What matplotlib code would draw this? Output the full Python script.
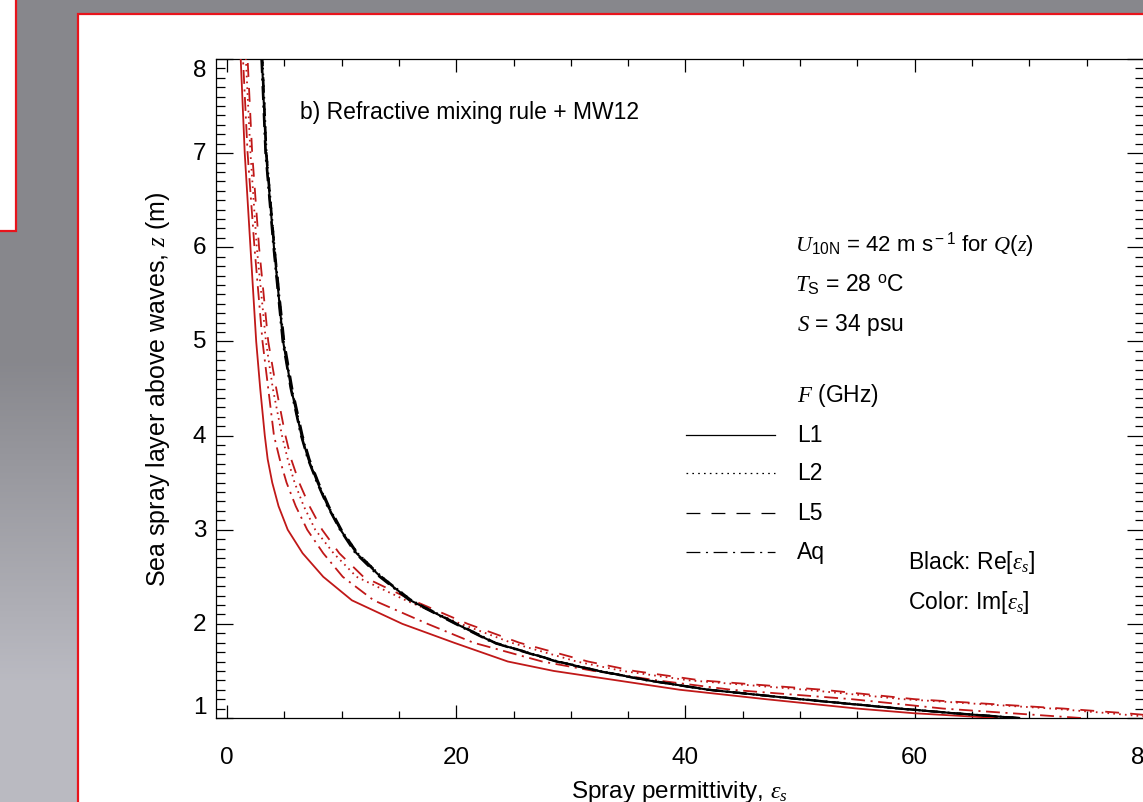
import numpy as np
import matplotlib
matplotlib.use("Agg")
import matplotlib.pyplot as plt
from matplotlib.patches import Rectangle
from matplotlib.lines import Line2D
from matplotlib.ticker import MultipleLocator

plt.rcParams.update({
    "font.family": ["Liberation Sans", "DejaVu Sans"],
    "mathtext.fontset": "custom",
    "mathtext.rm": "Liberation Sans",
    "mathtext.it": "Liberation Serif:italic",
    "mathtext.bf": "Liberation Sans:bold",
    "mathtext.sf": "Liberation Sans",
    "lines.scale_dashes": False,
})

# Height of the sea spray layer above the waves (m)
height = [1.0, 1.05, 1.1, 1.2, 1.3, 1.4, 1.5, 1.6, 1.8, 2.0, 2.25,
          2.5, 2.75, 3.0, 3.25, 3.5, 3.75, 4.0, 4.5, 5.0, 6.0, 7.0, 8.0]

# Real part of spray permittivity, per frequency band
re_L1 = [69.0, 63.5, 58.7, 50.0, 42.0, 36.7, 32.4, 28.8, 23.3, 20.0, 16.0,
         13.4, 11.3, 9.9, 8.8, 7.9, 7.1, 6.5, 5.6, 4.9, 4.1, 3.4, 3.05]
re_L2 = [69.1, 63.6, 58.8, 50.1, 42.1, 36.8, 32.5, 28.9, 23.4, 20.1, 16.1,
         13.5, 11.4, 9.95, 8.85, 7.95, 7.15, 6.55, 5.65, 4.95, 4.15, 3.45, 3.1]
re_L5 = [69.2, 63.6, 58.8, 50.1, 42.1, 36.8, 32.5, 28.9, 23.4, 20.1, 16.1,
         13.5, 11.4, 10.0, 8.9, 8.0, 7.2, 6.6, 5.7, 5.0, 4.15, 3.45, 3.1]
re_Aq = [68.9, 63.4, 58.6, 49.9, 41.9, 36.6, 32.3, 28.7, 23.2, 19.9, 15.9,
         13.3, 11.2, 9.85, 8.75, 7.85, 7.05, 6.45, 5.55, 4.85, 4.05, 3.35, 3.0]

# Imaginary part of spray permittivity, per frequency band
im_L1 = [67.2, 60.0, 55.0, 47.0, 39.5, 34.0, 28.5, 24.5, 19.8, 15.3, 10.9,
         8.4, 6.6, 5.3, 4.5, 3.95, 3.55, 3.3, 2.9, 2.55, 2.05, 1.55, 1.2]
im_L2 = [81.5, 77.0, 72.0, 59.0, 50.5, 40.3, 34.5, 30.5, 24.8, 20.4, 15.6,
         11.3, 9.3, 7.7, 6.7, 5.9, 5.3, 4.8, 4.0, 3.4, 2.6, 2.05, 1.65]
im_L5 = [83.0, 78.5, 73.0, 60.0, 52.0, 41.3, 35.5, 31.5, 25.5, 21.0, 16.2,
         11.9, 9.8, 8.3, 7.2, 6.3, 5.6, 5.1, 4.3, 3.6, 2.8, 2.2, 1.8]
im_Aq = [74.5, 68.5, 62.5, 54.5, 44.0, 37.5, 32.0, 27.5, 21.5, 17.5, 12.8,
         10.1, 8.4, 7.0, 6.0, 5.2, 4.6, 4.1, 3.6, 3.1, 2.4, 1.8, 1.4]

bands = ["L1", "L2", "L5", "Aq"]
re_parts = [re_L1, re_L2, re_L5, re_Aq]
im_parts = [im_L1, im_L2, im_L5, im_Aq]
styles = ["-", (0, (1.2, 3.0)), (0, (10, 8)), (0, (10, 4, 1.5, 4))]

W, H = 1143, 803
RED = "#c01818"
FRAME = "#e8141c"

fig = plt.figure(figsize=(W / 100, H / 100), dpi=100)

# slide backdrop
bg = fig.add_axes([0, 0, 1, 1])
bg.axis("off")
rows = np.linspace(0.0, 1.0, H)[:, None]
shade = 0.53 + 0.20 * np.clip((rows - 0.45) / 0.4, 0, 1) + 0.0 * np.ones((1, W))
bg.imshow(np.dstack([shade, shade, shade * 1.04]).clip(0, 1), aspect="auto",
          extent=[0, 1, 0, 1], zorder=0)
bg.set_xlim(0, 1)
bg.set_ylim(0, 1)
bg.add_patch(Rectangle((-0.01, (H - 232) / H), 16 / W + 0.01, 0.4,
                       facecolor="white", edgecolor=FRAME, lw=1.6, zorder=2))
bg.add_patch(Rectangle((78 / W, -0.02), 1.0, (H - 15) / H + 0.02,
                       facecolor="white", edgecolor=FRAME, lw=1.6, zorder=2))

x0, x1 = 215.5, 1144.0
y_top, y_bot = 60.0, 719.0
ax = fig.add_axes([x0 / W, (H - y_bot) / H, (x1 - x0) / W, (y_bot - y_top) / H])
ax.set_facecolor("white")

for vals, ls in zip(im_parts, styles):
    ax.plot(vals, height, color=RED, lw=1.3, linestyle=ls, zorder=3)
for vals, ls in zip(re_parts, styles):
    ax.plot(vals, height, color="black", lw=1.5, linestyle=ls, zorder=4)

ax.set_xlim(-1, 80)
ax.set_ylim(1, 8)
ax.xaxis.set_major_locator(MultipleLocator(20))
ax.xaxis.set_minor_locator(MultipleLocator(5))
ax.yaxis.set_major_locator(MultipleLocator(1))
ax.yaxis.set_minor_locator(MultipleLocator(0.1))
ax.tick_params(which="both", direction="in", top=True, right=True, width=0.9, color="black")
ax.tick_params(axis="x", which="major", length=9.5, pad=20.5, labelsize=17.5)
ax.tick_params(axis="x", which="minor", length=5)
ax.tick_params(axis="y", which="major", length=12.5, pad=6.5, labelsize=17.5)
ax.tick_params(axis="y", which="minor", length=6.5)
for sp in ax.spines.values():
    sp.set_linewidth(0.9)

ax.set_yticks([1, 2, 3, 4, 5, 6, 7, 8])
ax.set_yticklabels(["1", "2", "3", "4", "5", "6", "7", "8"])
for lab in ax.get_yticklabels():
    if lab.get_text() == "8":
        lab.set_va("top")
    elif lab.get_text() == "1":
        lab.set_va("bottom")
    else:
        lab.set_va("center")

ax.set_ylabel("Sea spray layer above waves, $z$ (m)", fontsize=18)
ax.yaxis.set_label_coords((158 - x0) / (x1 - x0), 0.5)
ax.yaxis.label.set_va("center")
ax.set_xlabel(r"Spray permittivity, $\varepsilon_s$", fontsize=17.5)
ax.xaxis.set_label_coords(0.5, (y_bot - 792) / (y_bot - y_top))
ax.xaxis.label.set_va("center")


def px(x, y):
    """Axes-fraction position of a pixel location inside the plot frame."""
    return (x - x0) / (x1 - x0), (y_bot - y) / (y_bot - y_top)


fs = 16.5
ax.text(*px(300, 112), "b) Refractive mixing rule + MW12", transform=ax.transAxes,
        fontsize=16.5, va="center", ha="left")
ax.text(*px(795, 245), r"$U_{\rm 10N}$ = 42 m s$^{\rm -1}$ for $Q(z)$",
        transform=ax.transAxes, fontsize=16, va="center", ha="left")
ax.text(*px(795, 285), r"$T_{\rm S}$ = 28 $^{\rm o}$C",
        transform=ax.transAxes, fontsize=fs, va="center", ha="left")
ax.text(*px(797, 325), r"$S$ = 34 psu",
        transform=ax.transAxes, fontsize=fs, va="center", ha="left")
ax.text(*px(797, 396), r"$F$ (GHz)",
        transform=ax.transAxes, fontsize=fs, va="center", ha="left")

row_y = [436, 474, 514, 553]
for name, ls, yy in zip(bands, styles, row_y):
    xa, ya = px(686, yy)
    xb, _ = px(775, yy)
    ax.add_line(Line2D([xa, xb], [ya, ya], transform=ax.transAxes,
                       color="black", lw=0.9, linestyle=ls))
    ax.text(*px(797, yy), name, transform=ax.transAxes, fontsize=fs,
            va="center", ha="left")

ax.text(*px(908, 563), r"Black: Re[$\varepsilon_s$]", transform=ax.transAxes,
        fontsize=fs, va="center", ha="left")
ax.text(*px(908, 603), r"Color: Im[$\varepsilon_s$]", transform=ax.transAxes,
        fontsize=fs, va="center", ha="left")

fig.savefig("out.png", dpi=100)
